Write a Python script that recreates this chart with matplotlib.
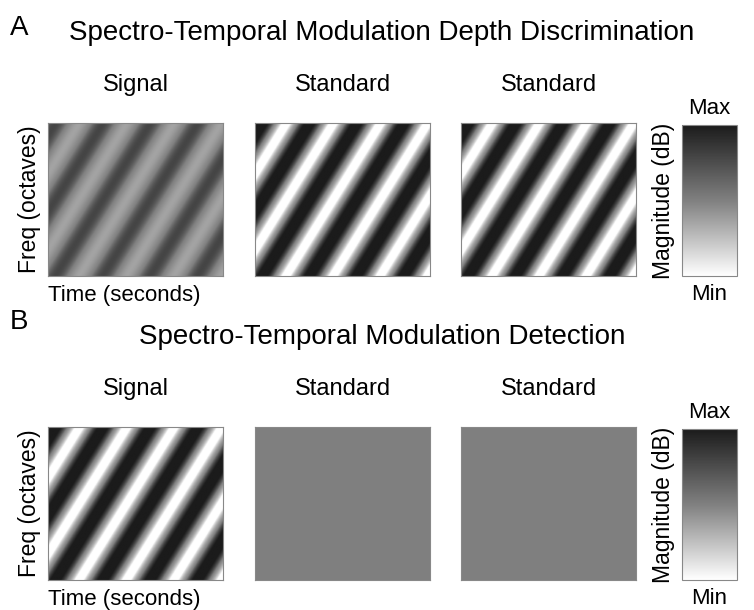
import numpy as np
import matplotlib
matplotlib.use('Agg')
import matplotlib.pyplot as plt
from matplotlib.colors import LinearSegmentedColormap, TwoSlopeNorm

plt.rcParams['font.family'] = ['Liberation Sans', 'DejaVu Sans']

# Figure text
row_letters = ['A', 'B']
row_titles = ['Spectro-Temporal Modulation Depth Discrimination',
              'Spectro-Temporal Modulation Detection']
panel_titles = ['Signal', 'Standard', 'Standard']

# Modulation depth of each interval (0 = flat, 1 = full depth)
depths_A = [0.4, 0.995, 0.995]
depths_B = [0.995, 0.0, 0.0]

# Ripple parameters (cycles across panel)
cycles_time = 3.7      # cycles along time axis
cycles_freq = 2.0      # cycles along frequency axis
n_t, n_f = 240, 200
db_range = (-16.0, 0.0, 5.0)   # min, flat level, max of the magnitude map (dB)

W, H = 754, 610

cmap = LinearSegmentedColormap.from_list('mag', ['#ffffff', '#808080', '#1b1b1b'])
norm = TwoSlopeNorm(vmin=db_range[0], vcenter=db_range[1], vmax=db_range[2])


def px(x, y):
    return x / W, 1 - y / H


def ripple(depth):
    t = np.linspace(0, 1, n_t)
    f = np.linspace(0, 1, n_f)
    T, F = np.meshgrid(t, f)
    env = 1 + depth * np.sin(2*np.pi*(cycles_time*T - cycles_freq*F) + 0.6)
    return 20*np.log10(np.maximum(env, 1e-3))


fig = plt.figure(figsize=(W/100, H/100), dpi=100)

panel_x = [48, 255, 461]
panel_w, panel_h = 175, 153
row_top = [123, 427]
letter_y = [28, 322]
title_y = [33, 337]

for r, depths in enumerate([depths_A, depths_B]):
    y0 = row_top[r]
    fig.text(*px(10, letter_y[r]), row_letters[r], fontsize=20, va='center', ha='left')
    fig.text(*px(382, title_y[r]), row_titles[r], fontsize=20,
             va='center', ha='center')
    for i, d in enumerate(depths):
        l, b = px(panel_x[i], y0 + panel_h)
        ax = fig.add_axes([l, b, panel_w/W, panel_h/H])
        im = ax.imshow(ripple(d), cmap=cmap, norm=norm,
                       origin='lower', aspect='auto', interpolation='bilinear')
        ax.set_xticks([]); ax.set_yticks([])
        for s in ax.spines.values():
            s.set_color('#888888'); s.set_linewidth(0.8)
        fig.text(*px(panel_x[i] + panel_w/2, y0 - 38), panel_titles[i],
                 fontsize=17, ha='center', va='center')
        if i == 0:
            ax.set_ylabel('Freq (octaves)', fontsize=16.5, labelpad=5)
            fig.text(*px(panel_x[0], y0 + panel_h + 19), 'Time (seconds)',
                     fontsize=16, ha='left', va='center')

    # magnitude colour bar
    l, b = px(682, y0 + panel_h)
    cax = fig.add_axes([l, b, 55/W, (panel_h - 2)/H])
    cb = fig.colorbar(im, cax=cax, orientation='vertical')
    cax.set_yticks([]); cax.minorticks_off()
    cb.outline.set_edgecolor('#888888')
    cax.set_ylabel('Magnitude (dB)', fontsize=16.5, labelpad=5)
    cax.yaxis.set_label_position('left')
    fig.text(*px(709, y0 - 14), 'Max', fontsize=16, ha='center', va='center')
    fig.text(*px(709, y0 + panel_h + 19), 'Min', fontsize=16, ha='center', va='center')

fig.savefig('out.png', dpi=100)
